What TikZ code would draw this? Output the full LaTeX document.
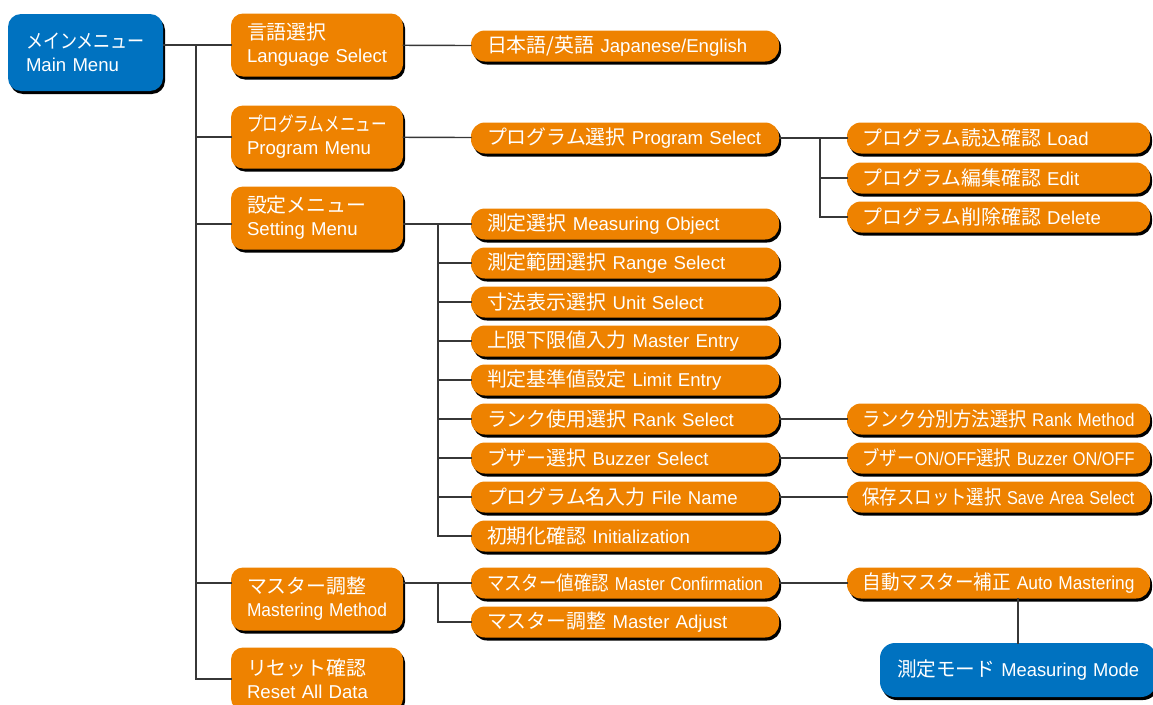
\documentclass[tikz,border=0pt]{standalone}
\usepackage{fontspec}
\setmainfont{Liberation Sans}
\newfontfamily\jp{Noto Sans CJK JP}[Scale=1.07]
\usetikzlibrary{shadows}
\definecolor{menuorange}{RGB}{238,130,0}
\definecolor{menublue}{RGB}{0,114,192}
\definecolor{linegray}{RGB}{55,55,55}
\newsavebox\fitbox
\newcommand\fitw[1]{\sbox\fitbox{#1}\ifdim\wd\fitbox>\hsize\resizebox{\hsize}{\ht\fitbox}{\usebox\fitbox}\else\usebox\fitbox\fi}
\newcommand\jl[2]{\fitw{{\jp #1} #2}}
\newcommand\twol[2]{\fitw{\jp #1}\\\fitw{#2}}
\tikzset{
  menubox/.style={rounded corners=12pt, fill=menuorange, text=white, inner xsep=17pt, inner ysep=0pt,
    align=left, font=\fontsize{18.6}{23}\selectfont,
    drop shadow={shadow xshift=2pt, shadow yshift=-3pt, fill=black, opacity=1}},
  bluebox/.style={menubox, fill=menublue},
  catbox/.style={menubox, text width=140pt, minimum height=63pt, inner xsep=16pt},
  itembox/.style={menubox, rounded corners=14pt, text width=276pt, minimum height=31pt, inner xsep=16pt},
  subbox/.style={itembox, text width=272pt, inner xsep=15.5pt}
}
\begin{document}
\begin{tikzpicture}[x=1pt,y=-1pt]
      \clip (0,0) rectangle (1153,704);
      \node[bluebox, rounded corners=13pt, inner xsep=18pt, text width=119pt, minimum height=77pt] (main) at (85.5,52.5) {\twol{メインメニュー}{Main Menu}};
      \begin{scope}[every node/.style={catbox}]
        \node (lang) at (317,45) {\twol{言語選択}{Language Select}};
        \node (progmenu) at (317,137) {\twol{プログラムメニュー}{Program Menu}};
        \node (setmenu) at (317,218) {\twol{設定メニュー}{Setting Menu}};
        \node (mastmenu) at (317,599) {\twol{マスター調整}{Mastering Method}};
        \node (reset) at (317,679) {\twol{リセット確認}{Reset All Data}};
      \end{scope}
      \begin{scope}[every node/.style={itembox}]
        \node (japeng) at (625,46) {\jl{日本語/英語}{Japanese/English}};
        \node (progsel) at (625,138) {\jl{プログラム選択}{Program Select}};
        \node (measobj) at (625,224) {\jl{測定選択}{Measuring Object}};
        \node (range) at (625,263) {\jl{測定範囲選択}{Range Select}};
        \node (unit) at (625,302) {\jl{寸法表示選択}{Unit Select}};
        \node (mentry) at (625,341) {\jl{上限下限値入力}{Master Entry}};
        \node (lentry) at (625,380) {\jl{判定基準値設定}{Limit Entry}};
        \node (rank) at (625,419) {\jl{ランク使用選択}{Rank Select}};
        \node (buzzer) at (625,458) {\jl{ブザー選択}{Buzzer Select}};
        \node (fname) at (625,497) {\jl{プログラム名入力}{File Name}};
        \node (init) at (625,536) {\jl{初期化確認}{Initialization}};
        \node (mconf) at (625,583) {\jl{マスター値確認}{Master Confirmation}};
        \node (madj) at (625,622) {\jl{マスター調整}{Master Adjust}};
      \end{scope}
      \begin{scope}[every node/.style={subbox}]
        \node (load) at (998.5,138) {\jl{プログラム読込確認}{Load}};
        \node (edit) at (998.5,178) {\jl{プログラム編集確認}{Edit}};
        \node (delete) at (998.5,217) {\jl{プログラム削除確認}{Delete}};
        \node (rankmeth) at (998.5,419) {\jl{ランク分別方法選択}{Rank Method}};
        \node (buzzonoff) at (998.5,458) {\fitw{{\jp ブザー}ON/OFF{\jp 選択} Buzzer ON/OFF}};
        \node (savearea) at (998.5,497) {\jl{保存スロット選択}{Save Area Select}};
        \node (automast) at (998.5,583) {\jl{自動マスター補正}{Auto Mastering}};
      \end{scope}
      \node[bluebox, rounded corners=15pt, inner xsep=17pt, text width=242pt, minimum height=54pt] (measmode) at (1018,670) {\jl{測定モード}{Measuring Mode}};
      \coordinate (trunk) at (196,0);
      \coordinate (setv) at (438,0);
      \coordinate (progv) at (820,0);
      \begin{scope}[every edge/.style={draw,linegray,line width=1.4pt,line cap=rect}]
        \path (main.east |- lang) edge (lang);
        \path (trunk |- lang) edge (trunk |- reset);
        \path (trunk |- progmenu) edge (progmenu);
        \path (trunk |- measobj) edge (setmenu.west |- measobj);
        \path (trunk |- mconf) edge (mastmenu.west |- mconf);
        \path (trunk |- reset) edge (reset);
        \path (lang) edge (japeng);
        \path (progmenu) edge (progsel);
        \path (setmenu.east |- measobj) edge (measobj);
        \path (setv |- measobj) edge (setv |- init);
        \path (setv |- range) edge (range);
        \path (setv |- unit) edge (unit);
        \path (setv |- mentry) edge (mentry);
        \path (setv |- lentry) edge (lentry);
        \path (setv |- rank) edge (rank);
        \path (setv |- buzzer) edge (buzzer);
        \path (setv |- fname) edge (fname);
        \path (setv |- init) edge (init);
        \path (mastmenu.east |- mconf) edge (mconf);
        \path (setv |- mconf) edge (setv |- madj);
        \path (setv |- madj) edge (madj);
        \path (progsel) edge (load);
        \path (progv |- load) edge (progv |- delete);
        \path (progv |- edit) edge (edit);
        \path (progv |- delete) edge (delete);
        \path (rank) edge (rankmeth);
        \path (buzzer) edge (buzzonoff);
        \path (fname) edge (savearea);
        \path (mconf) edge (automast);
        \path (measmode |- automast.south) edge (measmode);
      \end{scope}
    \end{tikzpicture}
\end{document}
